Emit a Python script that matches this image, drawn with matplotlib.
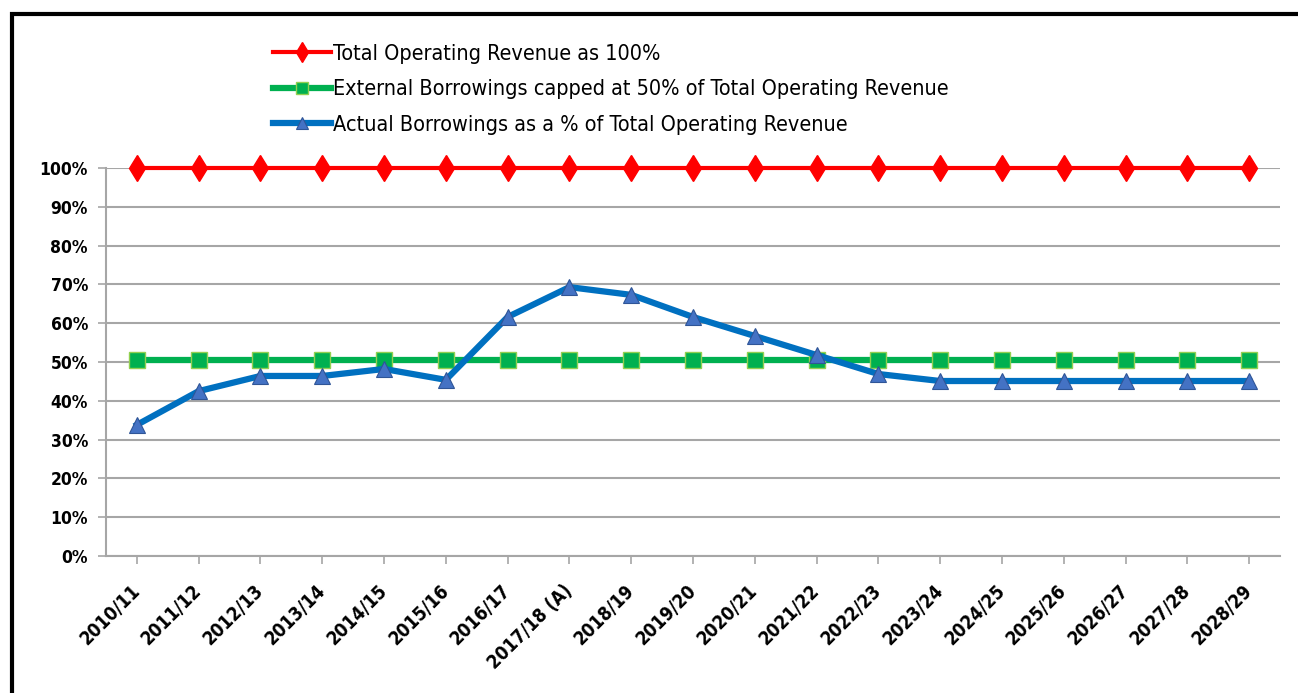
import numpy as np
import matplotlib.pyplot as plt
from matplotlib.patches import Rectangle

years = ['2010/11', '2011/12', '2012/13', '2013/14', '2014/15', '2015/16', '2016/17',
         '2017/18 (A)', '2018/19', '2019/20', '2020/21', '2021/22', '2022/23', '2023/24',
         '2024/25', '2025/26', '2026/27', '2027/28', '2028/29']
total_revenue = [100] * 19
borrowing_cap = [50.5] * 19
actual_borrowings = [33.8, 42.5, 46.4, 46.4, 48.2, 45.4, 61.6, 69.3, 67.3, 61.6,
                     56.7, 51.8, 46.9, 45.1, 45.1, 45.1, 45.1, 45.1, 45.1]

plt.rcParams['font.family'] = ['DejaVu Sans']
plt.rcParams['font.stretch'] = 'condensed'

fig = plt.figure(figsize=(12.98, 6.93), dpi=100)
ax = fig.add_axes([106 / 1298, 137 / 693, 1174 / 1298, 388 / 693])

x = np.arange(len(years))
ax.plot(x, total_revenue, color='#FF0000', lw=3, marker='d', ms=13,
        mfc='#FF0000', mec='#FF0000', clip_on=False, zorder=4,
        label='Total Operating Revenue as 100%')
ax.plot(x, borrowing_cap, color='#00B050', lw=4.5, marker='s', ms=11.5,
        mfc='#00B050', mec='#92D050', mew=1, zorder=3,
        label='External Borrowings capped at 50% of Total Operating Revenue')
ax.plot(x, actual_borrowings, color='#0070C0', lw=4.5, marker='^', ms=12,
        mfc='#4472C4', mec='#2F5597', mew=0.8, zorder=5,
        label='Actual Borrowings as a % of Total Operating Revenue')

ax.set_xlim(-0.5, len(years) - 0.5)
ax.set_ylim(0, 100)
ax.set_yticks(np.arange(0, 101, 10))
ax.set_yticklabels([f'{v}%' for v in range(0, 101, 10)], fontsize=12.5, fontweight='bold')
ax.set_xticks(x)
ax.set_xticklabels(years, fontsize=13.5, fontweight='bold', rotation=45,
                   ha='right', va='center', rotation_mode='anchor')

ax.grid(axis='y', color='#A6A6A6', lw=1.5)
ax.set_axisbelow(True)
for side in ['top', 'right']:
    ax.spines[side].set_visible(False)
for side in ['left', 'bottom']:
    ax.spines[side].set_color('#A6A6A6')
    ax.spines[side].set_linewidth(1.5)
ax.tick_params(axis='both', colors='#A6A6A6', length=6, width=1.2, labelcolor='black')
ax.tick_params(axis='y', pad=7)
ax.tick_params(axis='x', pad=17)

leg = fig.legend(loc='upper left', bbox_to_anchor=(264 / 1298, 1 - 35 / 693),
                 frameon=False, fontsize=15.5, handlelength=2.7, handletextpad=0.1,
                 labelspacing=0.72, borderaxespad=0, markerscale=0.75)

fig.patches.append(Rectangle((12 / 1298, -0.1), 1.2, 1 - 14 / 693 + 0.1,
                             transform=fig.transFigure, fill=False,
                             edgecolor='black', lw=3))

fig.savefig('out.png', dpi=100)
